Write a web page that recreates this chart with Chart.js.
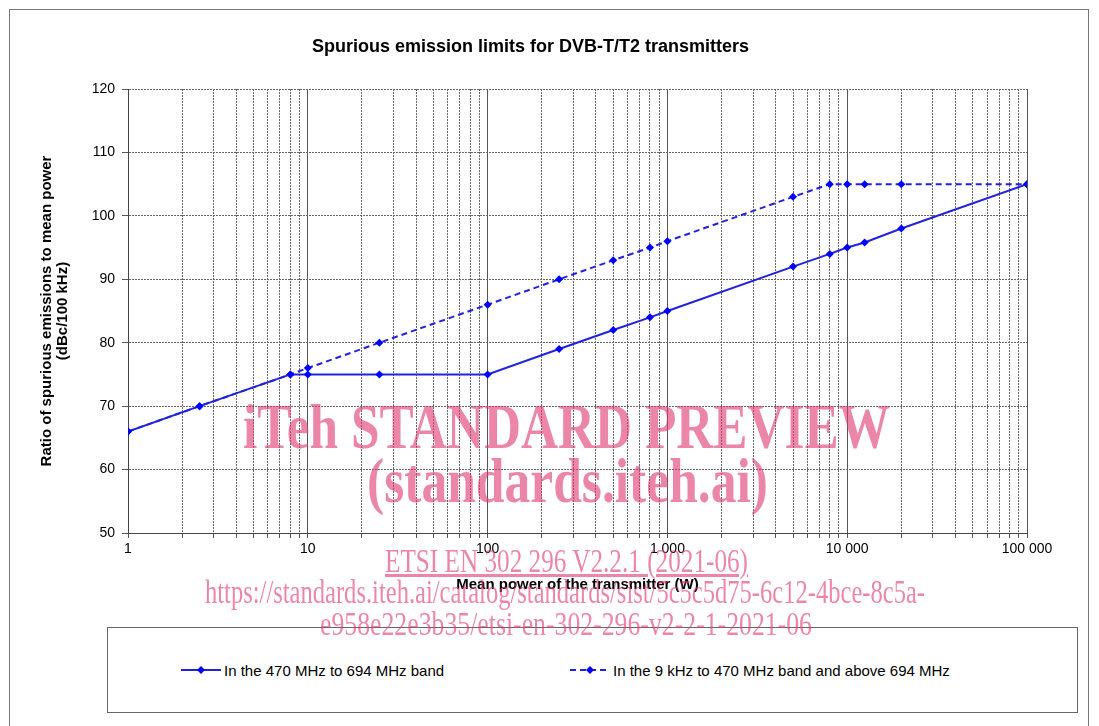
<!DOCTYPE html>
<html>
<head>
<meta charset="utf-8">
<script src="https://cdn.jsdelivr.net/npm/chart.js@4/dist/chart.umd.min.js"></script>
<style>
  body { margin: 0; background: #fff; width: 1099px; height: 726px; overflow: hidden; position: relative; font-family: 'Liberation Sans', Arial, sans-serif; }
  #frame { position: absolute; left: 9px; top: 9px; width: 1080px; height: 740px; border: 1px solid #777; box-sizing: border-box; }
  #wrap { position: absolute; left: 0; top: 0; width: 1099px; height: 620px; }
  #legendBox { position: absolute; left: 107px; top: 627px; width: 971px; height: 86px; border: 1px solid #666; box-sizing: border-box; background: #fff; }
  .item { position: absolute; top: 32px; height: 20px; font-size: 15px; color: #000; white-space: nowrap; }
  .item svg { vertical-align: middle; }
  .item span { vertical-align: middle; margin-left: 2px; }
  .wm { position: absolute; white-space: nowrap; color: rgba(225,60,115,0.62); font-family: 'Liberation Serif', 'Times New Roman', serif; line-height: 1; transform-origin: 0 0; z-index: 5; }
  .wm.big { font-size: 64px; font-weight: bold; }
  .wm.small { font-size: 33px; }
</style>
</head>
<body>
<div id="frame"></div>
<div id="wrap"><canvas id="lineChart"></canvas></div>
<div id="legendBox">
  <div class="item" style="left:72px">
    <svg width="42" height="12"><line x1="1" y1="6" x2="41" y2="6" stroke="#2222dd" stroke-width="2"/><polygon points="21,2 25,6 21,10 17,6" fill="#0000ff"/></svg><span>In the 470 MHz to 694 MHz band</span>
  </div>
  <div class="item" style="left:461px">
    <svg width="42" height="12"><line x1="1" y1="6" x2="41" y2="6" stroke="#2222dd" stroke-width="2" stroke-dasharray="6,4"/><polygon points="21,2 25,6 21,10 17,6" fill="#0000ff"/></svg><span>In the 9 kHz to 470 MHz band and above 694 MHz</span>
  </div>
</div>

<div class="wm big" data-left="243" data-right="890" style="top:395px">iTeh STANDARD PREVIEW</div>
<div class="wm big" data-left="367" data-right="768" style="top:449px">(standards.iteh.ai)</div>
<div class="wm small" data-left="385" data-right="748" style="top:545px;text-decoration:underline">ETSI EN 302 296 V2.2.1 (2021-06)</div>
<div class="wm small" data-left="205" data-right="925" style="top:576px">https://standards.iteh.ai/catalog/standards/sist/5c5c5d75-6c12-4bce-8c5a-</div>
<div class="wm small" data-left="320" data-right="812" style="top:608px">e958e22e3b35/etsi-en-302-296-v2-2-1-2021-06</div>

<script>
// Data
var power = [1, 2.5, 8, 10, 25, 100, 250, 500, 800, 1000, 5000, 8000, 10000, 12500, 20000, 100000];
var limitInBand = [66, 70, 75, 75, 75, 75, 79, 82, 84, 85, 92, 94, 95, 95.8, 98, 105];
var limitOutBand = [66, 70, 75, 76, 80, 86, 90, 93, 95, 96, 103, 105, 105, 105, 105, 105];

var xDecades = [1, 10, 100, 1000, 10000, 100000];
var xTickLabels = ['1', '10', '100', '1 000', '10 000', '100 000'];
var yMin = 50, yMax = 120, yStep = 10;

function toPoints(xs, ys) {
    return xs.map(function (x, i) { return { x: x, y: ys[i] }; });
}

function isDecade(v) {
    return xDecades.indexOf(v) >= 0;
}

Chart.defaults.font.family = "'Liberation Sans', Arial, sans-serif";
Chart.defaults.color = '#000';

var ctx = document.getElementById('lineChart').getContext('2d');

new Chart(ctx, {
    type: 'line',
    data: {
        datasets: [
            {
                label: 'In the 470 MHz to 694 MHz band',
                data: toPoints(power, limitInBand),
                borderColor: '#2222dd',
                backgroundColor: '#0000ff',
                borderWidth: 2,
                pointStyle: 'rectRot',
                pointRadius: 4,
                pointBorderWidth: 0,
                tension: 0
            },
            {
                label: 'In the 9 kHz to 470 MHz band and above 694 MHz',
                data: toPoints(power, limitOutBand),
                borderColor: '#2222dd',
                backgroundColor: '#0000ff',
                borderWidth: 2,
                borderDash: [6, 4],
                pointStyle: 'rectRot',
                pointRadius: 4,
                pointBorderWidth: 0,
                tension: 0
            }
        ]
    },
    options: {
        responsive: true,
        maintainAspectRatio: false,
        animation: false,
        layout: { padding: { left: 0, right: 38, top: 0, bottom: 0 } },
        plugins: {
            legend: { display: false },
            tooltip: { enabled: false },
            title: {
                display: true,
                text: 'Spurious emission limits for DVB-T/T2 transmitters',
                font: { size: 18, weight: 'bold', lineHeight: 1.2 },
                color: '#000',
                padding: { top: 36, bottom: 31.4 }
            }
        },
        scales: {
            x: {
                type: 'logarithmic',
                min: 1,
                max: 100000,
                afterBuildTicks: function (scale) {
                    var ticks = [];
                    xDecades.forEach(function (d, i) {
                        ticks.push({ value: d });
                        if (i < xDecades.length - 1) {
                            for (var m = 2; m <= 9; m++) ticks.push({ value: d * m });
                        }
                    });
                    scale.ticks = ticks;
                },
                afterFit: function (scale) { scale.height = 87; },
                ticks: {
                    autoSkip: false,
                    maxRotation: 0,
                    padding: 3,
                    font: { size: 14 },
                    callback: function (value) {
                        var i = xDecades.indexOf(value);
                        return i >= 0 ? xTickLabels[i] : '';
                    }
                },
                grid: {
                    color: function (c) { return c.tick && isDecade(c.tick.value) ? '#555' : '#666'; },
                    lineWidth: 1,
                    tickLength: 5,
                    tickColor: '#555'
                },
                border: {
                    display: true,
                    color: '#444',
                    width: 1,
                    dash: function (c) { return c.tick && !isDecade(c.tick.value) ? [2, 1] : []; }
                },
                title: {
                    display: true,
                    text: 'Mean power of the transmitter (W)',
                    font: { size: 15, weight: 'bold', lineHeight: 1.2 },
                    color: '#000',
                    padding: { top: 0, bottom: 26 }
                }
            },
            y: {
                min: yMin,
                max: yMax,
                afterFit: function (scale) { scale.width = 128; },
                ticks: {
                    stepSize: yStep,
                    padding: 7,
                    font: { size: 14 }
                },
                grid: {
                    color: '#666',
                    lineWidth: 1,
                    tickLength: 6,
                    tickColor: '#555'
                },
                border: {
                    display: true,
                    color: '#444',
                    width: 1,
                    dash: function (c) { return c.tick ? [2, 1] : []; }
                },
                title: {
                    display: true,
                    text: ['Ratio of spurious emissions to mean power', '(dBc/100 kHz)'],
                    font: { size: 15, weight: 'bold', lineHeight: 1.05 },
                    color: '#000',
                    padding: { top: 39, bottom: 0 }
                }
            },
            y2: {
                type: 'linear',
                position: 'right',
                display: true,
                afterFit: function (scale) { scale.width = 34; },
                ticks: { display: false },
                grid: { display: false },
                border: { display: false }
            }
        }
    }
});

// fit the watermark lines to their widths
document.querySelectorAll('.wm').forEach(function (el) {
    var left = +el.dataset.left, right = +el.dataset.right;
    var w = el.getBoundingClientRect().width;
    el.style.left = left + 'px';
    el.style.transform = 'scaleX(' + ((right - left) / w) + ')';
});
</script>
</body>
</html>
